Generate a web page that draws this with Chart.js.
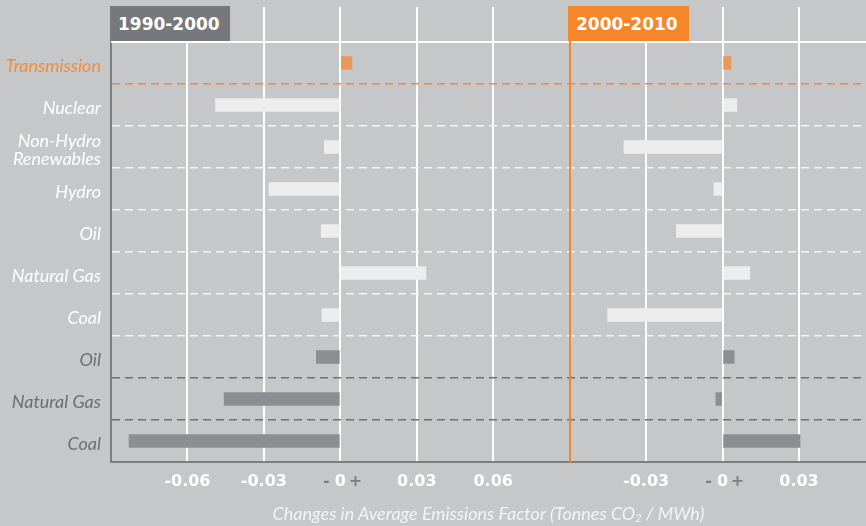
<!DOCTYPE html>
<html>
<head>
<meta charset="utf-8">
<script src="https://cdn.jsdelivr.net/npm/chart.js@4.4.1/dist/chart.umd.min.js"></script>
<style>
  html, body { margin: 0; padding: 0; background: #c6c7c9; }
  #wrap { position: relative; width: 866px; height: 526px; overflow: hidden; }
  #chart { position: absolute; left: 0; top: 0; }
  .period {
    position: absolute; top: 6px; height: 35px;
    padding-left: 8px; box-sizing: border-box; color: #fff;
    font: bold 17px "DejaVu Sans", sans-serif;
    line-height: 37px;
  }
  #p1 { left: 110px; width: 120px; background: #77787b; }
  #p2 { left: 568px; width: 121px; background: #f5862a; }
  #xtitle {
    position: absolute; left: 111px; width: 755px; top: 502px; text-align: center;
    font: italic 18px Lato, sans-serif; color: #f3f3f3;
  }
  #xtitle sub { font-size: 11px; vertical-align: -2px; }
</style>
</head>
<body>
<div id="wrap">
  <canvas id="chart" width="866" height="526"></canvas>
  <div class="period" id="p1">1990-2000</div>
  <div class="period" id="p2">2000-2010</div>
  <div id="xtitle">Changes in Average Emissions Factor (Tonnes CO<sub>2</sub> / MWh)</div>
</div>
<script>
// ── data ────────────────────────────────────────────────────
const categories = [
  "Transmission", "Nuclear", ["Non-Hydro", "Renewables"], "Hydro", "Oil",
  "Natural Gas", "Coal", "Oil", "Natural Gas", "Coal",
];
// 0 = transmission, 1 = light group, 2 = dark group
const rowGroup = [0, 1, 1, 1, 1, 1, 1, 2, 2, 2];

const change1990to2000 = [0.0045, -0.049, -0.0063, -0.028, -0.0075, 0.0336, -0.0072, -0.0094, -0.0456, -0.0829];
const change2000to2010 = [0.0033, 0.0056, -0.0387, -0.0034, -0.0181, 0.0107, -0.0451, 0.0046, -0.0026, 0.0304];

const ticks1990 = [-0.06, -0.03, 0, 0.03, 0.06];
const ticks2000 = [-0.03, 0, 0.03];
const range1990 = [-0.09, 0.09];
const range2000 = [-0.06, 0.0563];

// ── styles ──────────────────────────────────────────────────
const ORANGE = "#f5862a";
const groupBar     = ["#e8985a", "#ededed", "#8d8e91"];
const groupLabel   = ["#f28c38", "#ffffff", "#6d6e71"];
const groupDivider = ["#f08a3c", "#f4f4f4", "#6f7073"];
const AXIS = "#7c7d80";
const tickFont = { family: "DejaVu Sans", weight: "bold", size: 16 };

const barColors = rowGroup.map(g => groupBar[g]);

function xScale(range, tickValues) {
  return {
    type: "linear",
    position: "bottom",
    stack: "panels",
    stackWeight: range[1] - range[0],
    min: range[0],
    max: range[1],
    afterBuildTicks: s => { s.ticks = tickValues.map(v => ({ value: v })); },
    afterFit: s => { s.height = 64; },
    grid: { color: "#ffffff", lineWidth: 2, drawTicks: false },
    border: { color: AXIS, width: 2 },
    ticks: {
      color: "#ffffff", font: tickFont, padding: 10, maxRotation: 0, autoSkip: false,
      callback: v => v === 0 ? "0" : v.toFixed(2),
    },
  };
}

// header rules, orange panel divider, grey "- +" around zero
const panelDecor = {
  id: "panelDecor",
  beforeDatasetsDraw(chart) {
    const { ctx, chartArea: a } = chart;
    ctx.save();
    ctx.strokeStyle = "#ffffff";
    ctx.lineWidth = 2;
    ctx.beginPath(); ctx.moveTo(a.left, a.top); ctx.lineTo(a.right, a.top); ctx.stroke();
    ["x1", "x2"].forEach(id => {
      const s = chart.scales[id];
      s.ticks.forEach(t => {
        const x = Math.round(s.getPixelForValue(t.value));
        ctx.beginPath(); ctx.moveTo(x, 7); ctx.lineTo(x, a.top); ctx.stroke();
      });
    });
    ctx.restore();
  },
  afterDatasetsDraw(chart) {
    const { ctx, chartArea: a } = chart;
    const x = Math.round(chart.scales.x2.left);
    ctx.save();
    ctx.strokeStyle = ORANGE;
    ctx.lineWidth = 2;
    ctx.beginPath(); ctx.moveTo(x, a.top - 3); ctx.lineTo(x, a.bottom); ctx.stroke();
    ctx.restore();
  },
  afterDraw(chart) {
    const { ctx } = chart;
    ["x1", "x2"].forEach(id => {
      const item = chart.scales[id].getLabelItems().find(it => it.label === "0");
      if (!item) return;
      const [x, y] = item.options.translation;
      ctx.save();
      ctx.font = item.font.string;
      ctx.textAlign = "center";
      ctx.textBaseline = item.options.textBaseline;
      ctx.fillStyle = "#7d7e81";
      ctx.fillText("-", x - 14, y + item.textOffset);
      ctx.fillText("+", x + 15, y + item.textOffset);
      ctx.restore();
    });
  },
};

new Chart(document.getElementById("chart").getContext("2d"), {
  type: "bar",
  data: {
    labels: categories,
    datasets: [
      { label: "1990-2000", data: change1990to2000, xAxisID: "x1", yAxisID: "y",
        backgroundColor: barColors, grouped: false, barThickness: 13, borderWidth: 0 },
      { label: "2000-2010", data: change2000to2010, xAxisID: "x2", yAxisID: "y",
        backgroundColor: barColors, grouped: false, barThickness: 13, borderWidth: 0 },
    ],
  },
  options: {
    indexAxis: "y",
    responsive: false,
    animation: false,
    layout: { padding: { top: 42, left: 0, right: 0, bottom: 0 } },
    plugins: { legend: { display: false }, tooltip: { enabled: false } },
    scales: {
      x1: xScale(range1990, ticks1990),
      x2: xScale(range2000, ticks2000),
      y: {
        type: "category",
        afterFit: s => { s.width = 111; },
        grid: {
          offset: true, drawTicks: false, lineWidth: 1.5,
          color: ctx => (ctx.index >= 1 ? groupDivider[rowGroup[ctx.index - 1]] : "rgba(0,0,0,0)"),
        },
        border: { color: AXIS, width: 2, dash: [8, 5] },
        ticks: {
          color: ctx => groupLabel[rowGroup[ctx.index]],
          font: { family: "Lato", style: "italic", size: 18, lineHeight: 0.98 },
          padding: 10,
          labelOffset: 3,
        },
      },
    },
  },
  plugins: [panelDecor],
});
</script>
</body>
</html>
